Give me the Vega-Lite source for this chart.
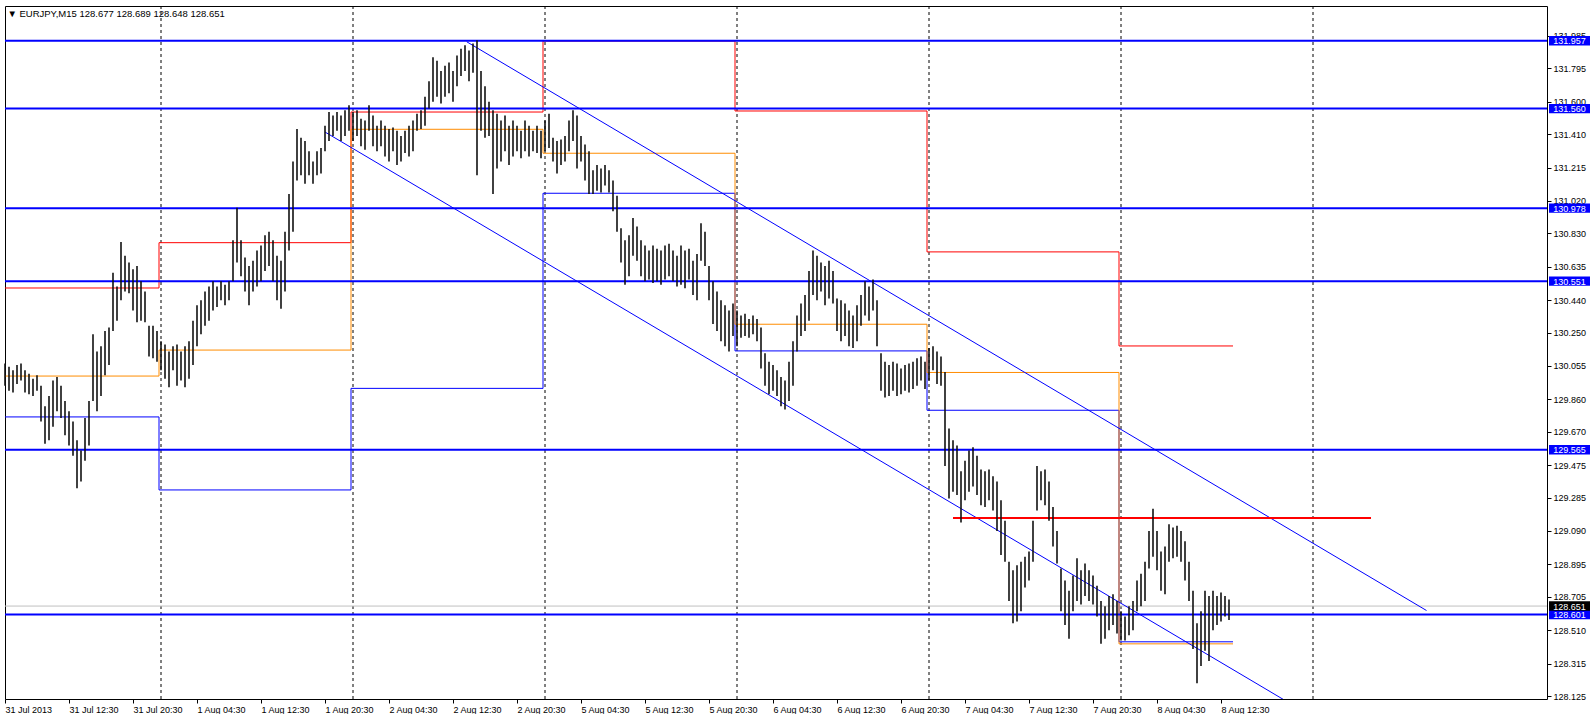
{
  "$schema": "https://vega.github.io/schema/vega-lite/v6.json",
  "width": 1542,
  "height": 693,
  "padding": {"left": 3, "top": 5, "right": 0, "bottom": 0},
  "autosize": {"type": "pad"},
  "background": "#ffffff",
  "config": {
    "view": {"stroke": "#000000", "strokeWidth": 1},
    "axis": {"labelFont": "Liberation Sans", "labelFontSize": 9, "labelColor": "#000000", "tickColor": "#000000", "domain": false, "grid": false, "tickSize": 4}
  },
  "layer": [
    {
      "data": {"values": [{"i": 78}, {"i": 174}, {"i": 270}, {"i": 366}, {"i": 462}, {"i": 558}, {"i": 654}]},
      "mark": {"type": "rule", "color": "#000000", "strokeWidth": 1, "strokeDash": [3, 3]},
      "encoding": {"x": {"field": "i", "type": "quantitative", "scale": {"domain": [0, 771], "nice": false, "zero": false},
          "axis": {"orient": "bottom", "values": [0, 32, 64, 96, 128, 160, 192, 224, 256, 288, 320, 352, 384, 416, 448, 480, 512, 544, 576, 608],
            "labelExpr": "['31 Jul 2013','31 Jul 12:30','31 Jul 20:30','1 Aug 04:30','1 Aug 12:30','1 Aug 20:30','2 Aug 04:30','2 Aug 12:30','2 Aug 20:30','5 Aug 04:30','5 Aug 12:30','5 Aug 20:30','6 Aug 04:30','6 Aug 12:30','6 Aug 20:30','7 Aug 04:30','7 Aug 12:30','7 Aug 20:30','8 Aug 04:30','8 Aug 12:30'][round(datum.value/32)]",
            "labelAlign": "left", "labelBaseline": "top", "labelPadding": 2, "labelDx": 1, "labelOverlap": false, "labelFlush": false, "title": null}}}
    },
    {
      "data": {"values": [{"p": 128.651}]},
      "mark": {"type": "rule", "color": "#c0c0c0", "strokeWidth": 1},
      "encoding": {"y": {"field": "p", "type": "quantitative", "scale": {"domain": [128.1075, 132.16], "nice": false, "zero": false},
          "axis": {"orient": "right", "values": [128.125, 128.315, 128.51, 128.705, 128.895, 129.09, 129.285, 129.475, 129.67, 129.86, 130.055, 130.25, 130.44, 130.635, 130.83, 131.02, 131.215, 131.41, 131.6, 131.795, 131.985],
            "format": ".3f", "labelAlign": "left", "labelBaseline": "middle", "labelPadding": 2, "labelOverlap": false, "labelFlush": false, "title": null}}}
    },
    {
      "data": {"values": [
        {"s": "S", "i": 0, "p": 129.757}, {"s": "S", "i": 77, "p": 129.330}, {"s": "S", "i": 173, "p": 129.924}, {"s": "S", "i": 269, "p": 131.065}, {"s": "S", "i": 365, "p": 130.143}, {"s": "S", "i": 461, "p": 129.796}, {"s": "S", "i": 557, "p": 128.442}, {"s": "S", "i": 614, "p": 128.442},
        {"s": "R", "i": 0, "p": 130.511}, {"s": "R", "i": 77, "p": 130.776}, {"s": "R", "i": 173, "p": 131.540}, {"s": "R", "i": 269, "p": 131.955}, {"s": "R", "i": 365, "p": 131.546}, {"s": "R", "i": 461, "p": 130.722}, {"s": "R", "i": 557, "p": 130.172}, {"s": "R", "i": 614, "p": 130.172},
        {"s": "P", "i": 0, "p": 129.996}, {"s": "P", "i": 77, "p": 130.148}, {"s": "P", "i": 173, "p": 131.439}, {"s": "P", "i": 269, "p": 131.299}, {"s": "P", "i": 365, "p": 130.299}, {"s": "P", "i": 461, "p": 130.017}, {"s": "P", "i": 557, "p": 128.430}, {"s": "P", "i": 614, "p": 128.430}
      ]},
      "mark": {"type": "line", "interpolate": "step-after", "strokeWidth": 1},
      "encoding": {
        "x": {"field": "i", "type": "quantitative", "scale": {"domain": [0, 771], "nice": false, "zero": false},
          "axis": {"orient": "bottom", "values": [0, 32, 64, 96, 128, 160, 192, 224, 256, 288, 320, 352, 384, 416, 448, 480, 512, 544, 576, 608],
            "labelExpr": "['31 Jul 2013','31 Jul 12:30','31 Jul 20:30','1 Aug 04:30','1 Aug 12:30','1 Aug 20:30','2 Aug 04:30','2 Aug 12:30','2 Aug 20:30','5 Aug 04:30','5 Aug 12:30','5 Aug 20:30','6 Aug 04:30','6 Aug 12:30','6 Aug 20:30','7 Aug 04:30','7 Aug 12:30','7 Aug 20:30','8 Aug 04:30','8 Aug 12:30'][round(datum.value/32)]",
            "labelAlign": "left", "labelBaseline": "top", "labelPadding": 2, "labelDx": 1, "labelOverlap": false, "labelFlush": false, "title": null}},
        "y": {"field": "p", "type": "quantitative", "scale": {"domain": [128.1075, 132.16], "nice": false, "zero": false},
          "axis": {"orient": "right", "values": [128.125, 128.315, 128.51, 128.705, 128.895, 129.09, 129.285, 129.475, 129.67, 129.86, 130.055, 130.25, 130.44, 130.635, 130.83, 131.02, 131.215, 131.41, 131.6, 131.795, 131.985],
            "format": ".3f", "labelAlign": "left", "labelBaseline": "middle", "labelPadding": 2, "labelOverlap": false, "labelFlush": false, "title": null}},
        "stroke": {"field": "s", "type": "nominal", "scale": {"domain": ["R", "P", "S"], "range": ["#ff0000", "#ff8c00", "#0000ff"]}, "legend": null},
        "order": {"field": "i", "type": "quantitative"}
      }
    },
    {
      "data": {"values": [{"p": 131.957}, {"p": 131.560}, {"p": 130.978}, {"p": 130.551}, {"p": 129.565}, {"p": 128.601}]},
      "mark": {"type": "rule", "color": "#0000ff", "strokeWidth": 2},
      "encoding": {"y": {"field": "p", "type": "quantitative", "scale": {"domain": [128.1075, 132.16], "nice": false, "zero": false},
          "axis": {"orient": "right", "values": [128.125, 128.315, 128.51, 128.705, 128.895, 129.09, 129.285, 129.475, 129.67, 129.86, 130.055, 130.25, 130.44, 130.635, 130.83, 131.02, 131.215, 131.41, 131.6, 131.795, 131.985],
            "format": ".3f", "labelAlign": "left", "labelBaseline": "middle", "labelPadding": 2, "labelOverlap": false, "labelFlush": false, "title": null}}}
    },
    {
      "data": {"values": [{"i": 230.85, "p": 131.951, "i2": 710.75, "p2": 128.625}, {"i": 160, "p": 131.423, "i2": 650, "p2": 128.030}]},
      "mark": {"type": "rule", "color": "#0000ff", "strokeWidth": 1, "clip": true},
      "encoding": {
        "x": {"field": "i", "type": "quantitative", "scale": {"domain": [0, 771], "nice": false, "zero": false},
          "axis": {"orient": "bottom", "values": [0, 32, 64, 96, 128, 160, 192, 224, 256, 288, 320, 352, 384, 416, 448, 480, 512, 544, 576, 608],
            "labelExpr": "['31 Jul 2013','31 Jul 12:30','31 Jul 20:30','1 Aug 04:30','1 Aug 12:30','1 Aug 20:30','2 Aug 04:30','2 Aug 12:30','2 Aug 20:30','5 Aug 04:30','5 Aug 12:30','5 Aug 20:30','6 Aug 04:30','6 Aug 12:30','6 Aug 20:30','7 Aug 04:30','7 Aug 12:30','7 Aug 20:30','8 Aug 04:30','8 Aug 12:30'][round(datum.value/32)]",
            "labelAlign": "left", "labelBaseline": "top", "labelPadding": 2, "labelDx": 1, "labelOverlap": false, "labelFlush": false, "title": null}},
        "x2": {"field": "i2"},
        "y": {"field": "p", "type": "quantitative", "scale": {"domain": [128.1075, 132.16], "nice": false, "zero": false},
          "axis": {"orient": "right", "values": [128.125, 128.315, 128.51, 128.705, 128.895, 129.09, 129.285, 129.475, 129.67, 129.86, 130.055, 130.25, 130.44, 130.635, 130.83, 131.02, 131.215, 131.41, 131.6, 131.795, 131.985],
            "format": ".3f", "labelAlign": "left", "labelBaseline": "middle", "labelPadding": 2, "labelOverlap": false, "labelFlush": false, "title": null}},
        "y2": {"field": "p2"}
      }
    },
    {
      "data": {"values": [{"i": 474, "i2": 683, "p": 129.166}]},
      "mark": {"type": "rule", "color": "#ff0000", "strokeWidth": 2},
      "encoding": {
        "x": {"field": "i", "type": "quantitative", "scale": {"domain": [0, 771], "nice": false, "zero": false},
          "axis": {"orient": "bottom", "values": [0, 32, 64, 96, 128, 160, 192, 224, 256, 288, 320, 352, 384, 416, 448, 480, 512, 544, 576, 608],
            "labelExpr": "['31 Jul 2013','31 Jul 12:30','31 Jul 20:30','1 Aug 04:30','1 Aug 12:30','1 Aug 20:30','2 Aug 04:30','2 Aug 12:30','2 Aug 20:30','5 Aug 04:30','5 Aug 12:30','5 Aug 20:30','6 Aug 04:30','6 Aug 12:30','6 Aug 20:30','7 Aug 04:30','7 Aug 12:30','7 Aug 20:30','8 Aug 04:30','8 Aug 12:30'][round(datum.value/32)]",
            "labelAlign": "left", "labelBaseline": "top", "labelPadding": 2, "labelDx": 1, "labelOverlap": false, "labelFlush": false, "title": null}},
        "x2": {"field": "i2"},
        "y": {"field": "p", "type": "quantitative", "scale": {"domain": [128.1075, 132.16], "nice": false, "zero": false},
          "axis": {"orient": "right", "values": [128.125, 128.315, 128.51, 128.705, 128.895, 129.09, 129.285, 129.475, 129.67, 129.86, 130.055, 130.25, 130.44, 130.635, 130.83, 131.02, 131.215, 131.41, 131.6, 131.795, 131.985],
            "format": ".3f", "labelAlign": "left", "labelBaseline": "middle", "labelPadding": 2, "labelOverlap": false, "labelFlush": false, "title": null}}
      }
    },
    {
      "data": {"values": [
{"i":0,"h":130.07,"l":129.94},{"i":2,"h":130.05,"l":129.91},{"i":4,"h":130.03,"l":129.90},{"i":6,"h":130.06,"l":129.95},{"i":8,"h":130.07,"l":129.97},{"i":10,"h":130.03,"l":129.90},{"i":12,"h":130.01,"l":129.89},{"i":14,"h":129.98,"l":129.88},{"i":16,"h":130.00,"l":129.91},{"i":18,"h":129.94,"l":129.73},
{"i":20,"h":129.82,"l":129.60},{"i":22,"h":129.88,"l":129.62},{"i":24,"h":129.97,"l":129.70},{"i":26,"h":129.99,"l":129.79},{"i":28,"h":129.94,"l":129.75},{"i":30,"h":129.85,"l":129.65},{"i":32,"h":129.79,"l":129.59},{"i":34,"h":129.73,"l":129.53},{"i":36,"h":129.62,"l":129.34},{"i":38,"h":129.56,"l":129.38},
{"i":40,"h":129.75,"l":129.50},{"i":42,"h":129.85,"l":129.59},{"i":44,"h":130.24,"l":129.85},{"i":46,"h":130.14,"l":129.79},{"i":48,"h":130.17,"l":129.88},{"i":50,"h":130.26,"l":130.00},{"i":52,"h":130.28,"l":130.06},{"i":54,"h":130.60,"l":130.26},{"i":56,"h":130.52,"l":130.32},{"i":58,"h":130.78,"l":130.44},
{"i":60,"h":130.70,"l":130.49},{"i":62,"h":130.66,"l":130.48},{"i":64,"h":130.62,"l":130.38},{"i":66,"h":130.64,"l":130.31},{"i":68,"h":130.55,"l":130.32},{"i":70,"h":130.49,"l":130.31},{"i":72,"h":130.29,"l":130.11},{"i":74,"h":130.29,"l":130.10},{"i":76,"h":130.26,"l":130.08},{"i":78,"h":130.20,"l":130.03},
{"i":80,"h":130.18,"l":129.98},{"i":82,"h":130.14,"l":129.93},{"i":84,"h":130.17,"l":130.03},{"i":86,"h":130.18,"l":129.94},{"i":88,"h":130.14,"l":129.97},{"i":90,"h":130.17,"l":129.93},{"i":92,"h":130.20,"l":129.98},{"i":94,"h":130.32,"l":130.06},{"i":96,"h":130.41,"l":130.17},{"i":98,"h":130.44,"l":130.24},
{"i":100,"h":130.49,"l":130.29},{"i":102,"h":130.52,"l":130.32},{"i":104,"h":130.55,"l":130.38},{"i":106,"h":130.52,"l":130.40},{"i":108,"h":130.55,"l":130.44},{"i":110,"h":130.53,"l":130.41},{"i":112,"h":130.55,"l":130.44},{"i":114,"h":130.79,"l":130.55},{"i":116,"h":130.98,"l":130.66},{"i":118,"h":130.79,"l":130.58},
{"i":120,"h":130.69,"l":130.49},{"i":122,"h":130.64,"l":130.41},{"i":124,"h":130.67,"l":130.49},{"i":126,"h":130.73,"l":130.52},{"i":128,"h":130.76,"l":130.55},{"i":130,"h":130.82,"l":130.61},{"i":132,"h":130.84,"l":130.64},{"i":134,"h":130.79,"l":130.55},{"i":136,"h":130.70,"l":130.44},{"i":138,"h":130.67,"l":130.39},
{"i":140,"h":130.84,"l":130.49},{"i":142,"h":131.06,"l":130.73},{"i":144,"h":131.25,"l":130.84},{"i":146,"h":131.44,"l":131.14},{"i":148,"h":131.39,"l":131.17},{"i":150,"h":131.37,"l":131.12},{"i":152,"h":131.31,"l":131.17},{"i":154,"h":131.25,"l":131.12},{"i":156,"h":131.31,"l":131.17},{"i":158,"h":131.33,"l":131.18},
{"i":160,"h":131.46,"l":131.31},{"i":162,"h":131.54,"l":131.37},{"i":164,"h":131.52,"l":131.40},{"i":166,"h":131.54,"l":131.43},{"i":168,"h":131.52,"l":131.37},{"i":170,"h":131.55,"l":131.40},{"i":172,"h":131.58,"l":131.43},{"i":174,"h":131.54,"l":131.37},{"i":176,"h":131.55,"l":131.40},{"i":178,"h":131.50,"l":131.34},
{"i":180,"h":131.49,"l":131.32},{"i":182,"h":131.58,"l":131.43},{"i":184,"h":131.52,"l":131.34},{"i":186,"h":131.46,"l":131.31},{"i":188,"h":131.49,"l":131.34},{"i":190,"h":131.46,"l":131.28},{"i":192,"h":131.44,"l":131.25},{"i":194,"h":131.45,"l":131.31},{"i":196,"h":131.43,"l":131.23},{"i":198,"h":131.40,"l":131.25},
{"i":200,"h":131.43,"l":131.30},{"i":202,"h":131.46,"l":131.28},{"i":204,"h":131.49,"l":131.31},{"i":206,"h":131.53,"l":131.43},{"i":208,"h":131.55,"l":131.44},{"i":210,"h":131.63,"l":131.46},{"i":212,"h":131.72,"l":131.56},{"i":214,"h":131.86,"l":131.60},{"i":216,"h":131.84,"l":131.63},{"i":218,"h":131.78,"l":131.59},
{"i":220,"h":131.81,"l":131.63},{"i":222,"h":131.83,"l":131.65},{"i":224,"h":131.78,"l":131.60},{"i":226,"h":131.87,"l":131.69},{"i":228,"h":131.91,"l":131.75},{"i":230,"h":131.93,"l":131.78},{"i":232,"h":131.90,"l":131.72},{"i":234,"h":131.94,"l":131.77},{"i":236,"h":131.96,"l":131.17},{"i":238,"h":131.78,"l":131.43},
{"i":240,"h":131.69,"l":131.39},{"i":242,"h":131.60,"l":131.40},{"i":244,"h":131.55,"l":131.06},{"i":246,"h":131.53,"l":131.21},{"i":248,"h":131.49,"l":131.25},{"i":250,"h":131.52,"l":131.31},{"i":252,"h":131.46,"l":131.23},{"i":254,"h":131.49,"l":131.28},{"i":256,"h":131.46,"l":131.31},{"i":258,"h":131.43,"l":131.27},
{"i":260,"h":131.49,"l":131.31},{"i":262,"h":131.46,"l":131.28},{"i":264,"h":131.43,"l":131.31},{"i":266,"h":131.46,"l":131.30},{"i":268,"h":131.43,"l":131.27},{"i":270,"h":131.49,"l":131.31},{"i":272,"h":131.53,"l":131.33},{"i":274,"h":131.39,"l":131.25},{"i":276,"h":131.37,"l":131.18},{"i":278,"h":131.38,"l":131.23},
{"i":280,"h":131.40,"l":131.25},{"i":282,"h":131.49,"l":131.31},{"i":284,"h":131.55,"l":131.37},{"i":286,"h":131.52,"l":131.21},{"i":288,"h":131.40,"l":131.25},{"i":290,"h":131.35,"l":131.14},{"i":292,"h":131.31,"l":131.06},{"i":294,"h":131.20,"l":131.06},{"i":296,"h":131.23,"l":131.08},{"i":298,"h":131.21,"l":131.07},
{"i":300,"h":131.23,"l":131.11},{"i":302,"h":131.20,"l":131.07},{"i":304,"h":131.14,"l":130.96},{"i":306,"h":131.05,"l":130.84},{"i":308,"h":130.86,"l":130.66},{"i":310,"h":130.79,"l":130.53},{"i":312,"h":130.82,"l":130.58},{"i":314,"h":130.92,"l":130.70},{"i":316,"h":130.87,"l":130.67},{"i":318,"h":130.79,"l":130.58},
{"i":320,"h":130.76,"l":130.55},{"i":322,"h":130.73,"l":130.56},{"i":324,"h":130.76,"l":130.54},{"i":326,"h":130.74,"l":130.55},{"i":328,"h":130.73,"l":130.53},{"i":330,"h":130.76,"l":130.56},{"i":332,"h":130.77,"l":130.58},{"i":334,"h":130.73,"l":130.55},{"i":336,"h":130.70,"l":130.52},{"i":338,"h":130.76,"l":130.53},
{"i":340,"h":130.73,"l":130.51},{"i":342,"h":130.74,"l":130.56},{"i":344,"h":130.67,"l":130.47},{"i":346,"h":130.71,"l":130.44},{"i":348,"h":130.89,"l":130.67},{"i":350,"h":130.84,"l":130.64},{"i":352,"h":130.64,"l":130.44},{"i":354,"h":130.55,"l":130.30},{"i":356,"h":130.49,"l":130.26},{"i":358,"h":130.44,"l":130.20},
{"i":360,"h":130.41,"l":130.17},{"i":362,"h":130.38,"l":130.14},{"i":364,"h":130.42,"l":130.23},{"i":366,"h":130.38,"l":130.17},{"i":368,"h":130.35,"l":130.22},{"i":370,"h":130.36,"l":130.23},{"i":372,"h":130.33,"l":130.22},{"i":374,"h":130.35,"l":130.24},{"i":376,"h":130.33,"l":130.20},{"i":378,"h":130.28,"l":130.04},
{"i":380,"h":130.13,"l":129.94},{"i":382,"h":130.08,"l":129.89},{"i":384,"h":130.06,"l":129.91},{"i":386,"h":130.03,"l":129.88},{"i":388,"h":129.99,"l":129.82},{"i":390,"h":129.97,"l":129.80},{"i":392,"h":130.08,"l":129.85},{"i":394,"h":130.20,"l":129.94},{"i":396,"h":130.35,"l":130.14},{"i":398,"h":130.42,"l":130.23},
{"i":400,"h":130.47,"l":130.26},{"i":402,"h":130.61,"l":130.32},{"i":404,"h":130.73,"l":130.47},{"i":406,"h":130.70,"l":130.44},{"i":408,"h":130.66,"l":130.49},{"i":410,"h":130.64,"l":130.41},{"i":412,"h":130.67,"l":130.45},{"i":414,"h":130.61,"l":130.42},{"i":416,"h":130.45,"l":130.26},{"i":418,"h":130.44,"l":130.20},
{"i":420,"h":130.42,"l":130.23},{"i":422,"h":130.38,"l":130.17},{"i":424,"h":130.35,"l":130.16},{"i":426,"h":130.41,"l":130.20},{"i":428,"h":130.47,"l":130.29},{"i":430,"h":130.55,"l":130.35},{"i":432,"h":130.52,"l":130.32},{"i":434,"h":130.56,"l":130.38},{"i":436,"h":130.44,"l":130.17},{"i":438,"h":130.13,"l":129.91},
{"i":440,"h":130.08,"l":129.87},{"i":442,"h":130.06,"l":129.88},{"i":444,"h":130.08,"l":129.91},{"i":446,"h":130.07,"l":129.88},{"i":448,"h":130.04,"l":129.89},{"i":450,"h":130.06,"l":129.91},{"i":452,"h":130.07,"l":129.90},{"i":454,"h":130.08,"l":129.92},{"i":456,"h":130.10,"l":129.94},{"i":458,"h":130.11,"l":129.97},
{"i":460,"h":130.08,"l":129.92},{"i":462,"h":130.16,"l":129.97},{"i":464,"h":130.17,"l":130.03},{"i":466,"h":130.14,"l":129.95},{"i":468,"h":130.11,"l":129.94},{"i":470,"h":130.02,"l":129.47},{"i":472,"h":129.69,"l":129.28},{"i":474,"h":129.62,"l":129.32},{"i":476,"h":129.59,"l":129.30},{"i":478,"h":129.44,"l":129.14},
{"i":480,"h":129.50,"l":129.27},{"i":482,"h":129.56,"l":129.32},{"i":484,"h":129.58,"l":129.35},{"i":486,"h":129.53,"l":129.30},{"i":488,"h":129.45,"l":129.24},{"i":490,"h":129.44,"l":129.23},{"i":492,"h":129.45,"l":129.27},{"i":494,"h":129.41,"l":129.21},{"i":496,"h":129.38,"l":129.09},{"i":498,"h":129.27,"l":128.95},
{"i":500,"h":129.15,"l":128.91},{"i":502,"h":128.91,"l":128.68},{"i":504,"h":128.86,"l":128.55},{"i":506,"h":128.89,"l":128.56},{"i":508,"h":128.91,"l":128.62},{"i":510,"h":128.94,"l":128.76},{"i":512,"h":128.97,"l":128.80},{"i":514,"h":129.15,"l":128.91},{"i":516,"h":129.47,"l":129.21},{"i":518,"h":129.44,"l":129.27},
{"i":520,"h":129.45,"l":129.24},{"i":522,"h":129.38,"l":129.15},{"i":524,"h":129.23,"l":129.00},{"i":526,"h":129.09,"l":128.90},{"i":528,"h":128.87,"l":128.62},{"i":530,"h":128.80,"l":128.54},{"i":532,"h":128.74,"l":128.46},{"i":534,"h":128.83,"l":128.62},{"i":536,"h":128.93,"l":128.68},{"i":538,"h":128.86,"l":128.66},
{"i":540,"h":128.90,"l":128.71},{"i":542,"h":128.86,"l":128.68},{"i":544,"h":128.83,"l":128.66},{"i":546,"h":128.77,"l":128.59},{"i":548,"h":128.68,"l":128.43},{"i":550,"h":128.65,"l":128.46},{"i":552,"h":128.71,"l":128.51},{"i":554,"h":128.72,"l":128.54},{"i":556,"h":128.68,"l":128.49},{"i":558,"h":128.62,"l":128.45},
{"i":560,"h":128.59,"l":128.45},{"i":562,"h":128.65,"l":128.48},{"i":564,"h":128.68,"l":128.51},{"i":566,"h":128.80,"l":128.62},{"i":568,"h":128.84,"l":128.65},{"i":570,"h":128.91,"l":128.68},{"i":572,"h":129.09,"l":128.87},{"i":574,"h":129.22,"l":128.94},{"i":576,"h":129.09,"l":128.86},{"i":578,"h":128.97,"l":128.74},
{"i":580,"h":129.00,"l":128.72},{"i":582,"h":129.13,"l":128.91},{"i":584,"h":129.11,"l":128.93},{"i":586,"h":129.12,"l":128.94},{"i":588,"h":129.09,"l":128.91},{"i":590,"h":129.03,"l":128.80},{"i":592,"h":128.91,"l":128.68},{"i":594,"h":128.74,"l":128.40},{"i":596,"h":128.55,"l":128.20},{"i":598,"h":128.62,"l":128.30},
{"i":600,"h":128.74,"l":128.39},{"i":602,"h":128.71,"l":128.33},{"i":604,"h":128.74,"l":128.51},{"i":606,"h":128.71,"l":128.54},{"i":608,"h":128.73,"l":128.56},{"i":610,"h":128.71,"l":128.59},{"i":612,"h":128.69,"l":128.57}
      ]},
      "mark": {"type": "rule", "color": "#111111", "strokeWidth": 1.6},
      "encoding": {
        "x": {"field": "i", "type": "quantitative", "scale": {"domain": [0, 771], "nice": false, "zero": false},
          "axis": {"orient": "bottom", "values": [0, 32, 64, 96, 128, 160, 192, 224, 256, 288, 320, 352, 384, 416, 448, 480, 512, 544, 576, 608],
            "labelExpr": "['31 Jul 2013','31 Jul 12:30','31 Jul 20:30','1 Aug 04:30','1 Aug 12:30','1 Aug 20:30','2 Aug 04:30','2 Aug 12:30','2 Aug 20:30','5 Aug 04:30','5 Aug 12:30','5 Aug 20:30','6 Aug 04:30','6 Aug 12:30','6 Aug 20:30','7 Aug 04:30','7 Aug 12:30','7 Aug 20:30','8 Aug 04:30','8 Aug 12:30'][round(datum.value/32)]",
            "labelAlign": "left", "labelBaseline": "top", "labelPadding": 2, "labelDx": 1, "labelOverlap": false, "labelFlush": false, "title": null}},
        "y": {"field": "h", "type": "quantitative", "scale": {"domain": [128.1075, 132.16], "nice": false, "zero": false},
          "axis": {"orient": "right", "values": [128.125, 128.315, 128.51, 128.705, 128.895, 129.09, 129.285, 129.475, 129.67, 129.86, 130.055, 130.25, 130.44, 130.635, 130.83, 131.02, 131.215, 131.41, 131.6, 131.795, 131.985],
            "format": ".3f", "labelAlign": "left", "labelBaseline": "middle", "labelPadding": 2, "labelOverlap": false, "labelFlush": false, "title": null}},
        "y2": {"field": "l"}
      }
    },
    {
      "data": {"values": [{"p": 131.957, "kind": "level"}, {"p": 131.560, "kind": "level"}, {"p": 130.978, "kind": "level"}, {"p": 130.551, "kind": "level"}, {"p": 129.565, "kind": "level"}, {"p": 128.601, "kind": "level"}, {"p": 128.651, "kind": "bid"}]},
      "layer": [
        {
          "mark": {"type": "point", "shape": "M-1,-0.23H1V0.23H-1Z", "size": 1681, "filled": true, "opacity": 1, "strokeWidth": 0},
          "encoding": {
            "x": {"datum": 782.25, "type": "quantitative", "scale": {"domain": [0, 771], "nice": false, "zero": false},
              "axis": {"orient": "bottom", "values": [0, 32, 64, 96, 128, 160, 192, 224, 256, 288, 320, 352, 384, 416, 448, 480, 512, 544, 576, 608],
                "labelExpr": "['31 Jul 2013','31 Jul 12:30','31 Jul 20:30','1 Aug 04:30','1 Aug 12:30','1 Aug 20:30','2 Aug 04:30','2 Aug 12:30','2 Aug 20:30','5 Aug 04:30','5 Aug 12:30','5 Aug 20:30','6 Aug 04:30','6 Aug 12:30','6 Aug 20:30','7 Aug 04:30','7 Aug 12:30','7 Aug 20:30','8 Aug 04:30','8 Aug 12:30'][round(datum.value/32)]",
                "labelAlign": "left", "labelBaseline": "top", "labelPadding": 2, "labelDx": 1, "labelOverlap": false, "labelFlush": false, "title": null}},
            "y": {"field": "p", "type": "quantitative", "scale": {"domain": [128.1075, 132.16], "nice": false, "zero": false},
              "axis": {"orient": "right", "values": [128.125, 128.315, 128.51, 128.705, 128.895, 129.09, 129.285, 129.475, 129.67, 129.86, 130.055, 130.25, 130.44, 130.635, 130.83, 131.02, 131.215, 131.41, 131.6, 131.795, 131.985],
                "format": ".3f", "labelAlign": "left", "labelBaseline": "middle", "labelPadding": 2, "labelOverlap": false, "labelFlush": false, "title": null}},
            "fill": {"field": "kind", "type": "nominal", "scale": {"domain": ["level", "bid"], "range": ["#0000ff", "#000000"]}, "legend": null}
          }
        },
        {
          "mark": {"type": "text", "color": "#ffffff", "font": "Liberation Sans", "fontSize": 9, "align": "center", "baseline": "middle", "dy": 0.5},
          "encoding": {
            "x": {"datum": 782.25, "type": "quantitative", "scale": {"domain": [0, 771], "nice": false, "zero": false},
              "axis": {"orient": "bottom", "values": [0, 32, 64, 96, 128, 160, 192, 224, 256, 288, 320, 352, 384, 416, 448, 480, 512, 544, 576, 608],
                "labelExpr": "['31 Jul 2013','31 Jul 12:30','31 Jul 20:30','1 Aug 04:30','1 Aug 12:30','1 Aug 20:30','2 Aug 04:30','2 Aug 12:30','2 Aug 20:30','5 Aug 04:30','5 Aug 12:30','5 Aug 20:30','6 Aug 04:30','6 Aug 12:30','6 Aug 20:30','7 Aug 04:30','7 Aug 12:30','7 Aug 20:30','8 Aug 04:30','8 Aug 12:30'][round(datum.value/32)]",
                "labelAlign": "left", "labelBaseline": "top", "labelPadding": 2, "labelDx": 1, "labelOverlap": false, "labelFlush": false, "title": null}},
            "y": {"field": "p", "type": "quantitative", "scale": {"domain": [128.1075, 132.16], "nice": false, "zero": false},
              "axis": {"orient": "right", "values": [128.125, 128.315, 128.51, 128.705, 128.895, 129.09, 129.285, 129.475, 129.67, 129.86, 130.055, 130.25, 130.44, 130.635, 130.83, 131.02, 131.215, 131.41, 131.6, 131.795, 131.985],
                "format": ".3f", "labelAlign": "left", "labelBaseline": "middle", "labelPadding": 2, "labelOverlap": false, "labelFlush": false, "title": null}},
            "text": {"field": "p", "type": "quantitative", "format": ".3f"}
          }
        }
      ]
    },
    {
      "data": {"values": [{"label": "▼ EURJPY,M15  128.677 128.689 128.648 128.651"}]},
      "mark": {"type": "text", "color": "#000000", "font": "Liberation Sans", "fontSize": 9.5, "align": "left", "baseline": "middle"},
      "encoding": {
        "x": {"datum": 1.2, "type": "quantitative", "scale": {"domain": [0, 771], "nice": false, "zero": false},
          "axis": {"orient": "bottom", "values": [0, 32, 64, 96, 128, 160, 192, 224, 256, 288, 320, 352, 384, 416, 448, 480, 512, 544, 576, 608],
            "labelExpr": "['31 Jul 2013','31 Jul 12:30','31 Jul 20:30','1 Aug 04:30','1 Aug 12:30','1 Aug 20:30','2 Aug 04:30','2 Aug 12:30','2 Aug 20:30','5 Aug 04:30','5 Aug 12:30','5 Aug 20:30','6 Aug 04:30','6 Aug 12:30','6 Aug 20:30','7 Aug 04:30','7 Aug 12:30','7 Aug 20:30','8 Aug 04:30','8 Aug 12:30'][round(datum.value/32)]",
            "labelAlign": "left", "labelBaseline": "top", "labelPadding": 2, "labelDx": 1, "labelOverlap": false, "labelFlush": false, "title": null}},
        "y": {"datum": 132.115, "type": "quantitative", "scale": {"domain": [128.1075, 132.16], "nice": false, "zero": false},
          "axis": {"orient": "right", "values": [128.125, 128.315, 128.51, 128.705, 128.895, 129.09, 129.285, 129.475, 129.67, 129.86, 130.055, 130.25, 130.44, 130.635, 130.83, 131.02, 131.215, 131.41, 131.6, 131.795, 131.985],
            "format": ".3f", "labelAlign": "left", "labelBaseline": "middle", "labelPadding": 2, "labelOverlap": false, "labelFlush": false, "title": null}},
        "text": {"field": "label"}
      }
    }
  ]
}
